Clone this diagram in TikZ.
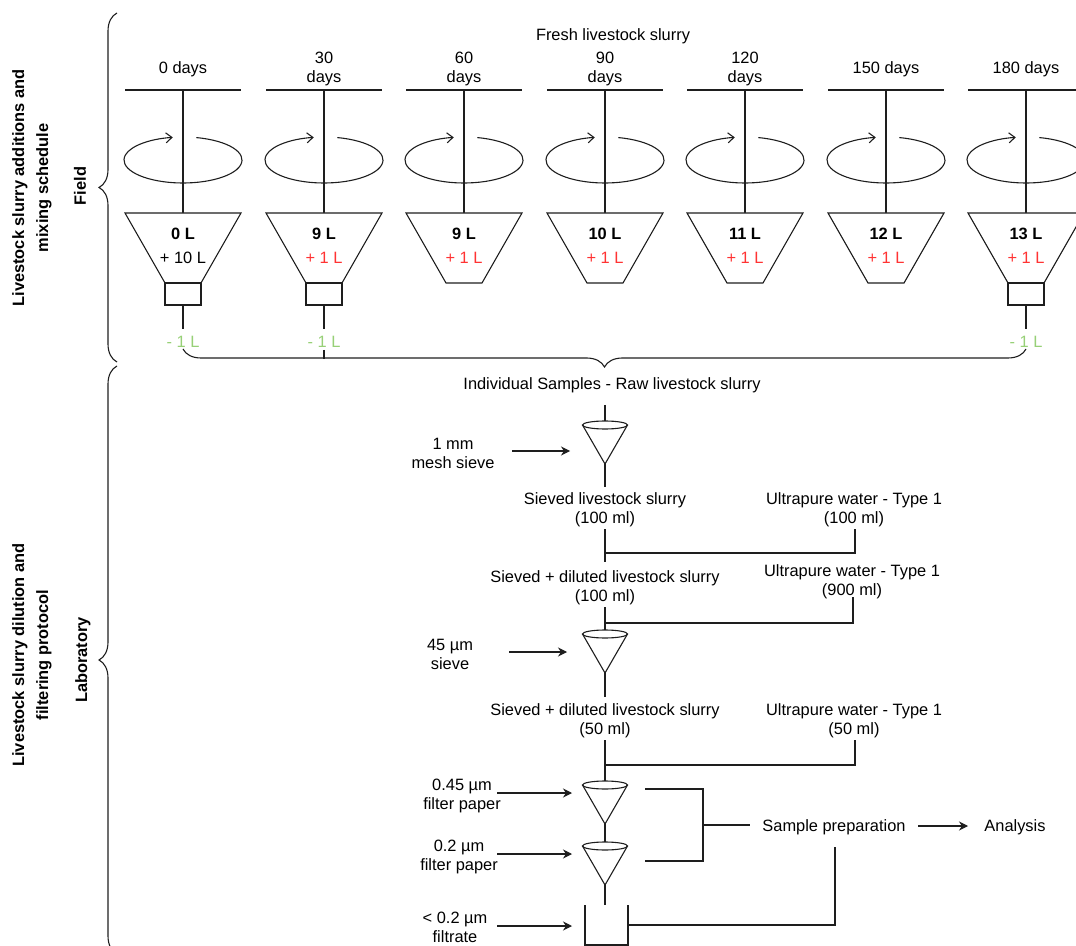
\documentclass[tikz,border=0pt]{standalone}
\usepackage{fontspec}
\setmainfont{Liberation Sans}
\usetikzlibrary{arrows.meta,decorations.pathreplacing}
\definecolor{minusgreen}{RGB}{151,208,119}
\definecolor{plusred}{RGB}{255,51,51}
\definecolor{ink}{RGB}{30,30,30}
\begin{document}
\begin{tikzpicture}[x=0.5pt,y=0.5pt,
  font=\fontsize{8.2}{9.5}\selectfont,
  line width=0.55pt, draw=ink,
  lbl/.style={align=center,inner sep=0pt,yshift=-0.8pt},
  side/.style={align=center,inner sep=0pt,rotate=90,font=\fontsize{8.2}{12}\selectfont\bfseries},
  bracegrp/.style={decorate,decoration={brace,amplitude=9pt}},
  feed/.style={-{Stealth[length=4.5pt,width=4.5pt]}},
  spin/.style={-{Straight Barb[length=3pt,width=5pt]}},
  funnel/.pic={\draw (-22.5,0) -- (0,-39) -- (22.5,0); \draw (0,0) ellipse[x radius=22.5,y radius=4];}
]
\useasboundingbox (0,0) rectangle (1076,-946);
\clip (0,0) rectangle (1076,-946);

% ---------------- Field ----------------
\node[lbl] (fresh) at (613,-35) {Fresh livestock slurry};
\foreach \cx/\day/\vol/\add/\acol/\hasbox [count=\i] in
 {183/{0 days}/0 L/+ 10 L/black/1,
  324/{30\\days}/9 L/+ 1 L/plusred/1,
  464/{60\\days}/9 L/+ 1 L/plusred/0,
  605/{90\\days}/10 L/+ 1 L/plusred/0,
  745/{120\\days}/11 L/+ 1 L/plusred/0,
  886/{150 days}/12 L/+ 1 L/plusred/0,
  1026/{180 days}/13 L/+ 1 L/plusred/1}
{
  \node[lbl] (day\i) at (\cx,-67.5) {\day};
  \coordinate (top\i) at (\cx,-90);
  \coordinate (tl\i) at (\cx-58,-90);
  \coordinate (tr\i) at (\cx+58,-90);
  \draw (tl\i) -- (tr\i);
  \coordinate (tank\i) at (\cx,-213);
  \draw (top\i) -- (tank\i);
  \draw[spin] ([shift={(77:59 and 23)}]\cx,-160) arc[start angle=77,end angle=-260,x radius=59,y radius=23];
  \draw[fill=white] (\cx-58,-213) -- (\cx+58,-213) -- (\cx+18,-283) -- (\cx-18,-283) -- cycle;
  \node[lbl,font=\fontsize{8.2}{9.5}\selectfont\bfseries] (vol\i) at (\cx,-232) {\vol};
  \node[lbl,text=\acol] (add\i) at (\cx,-256) {\add};
  \ifnum\hasbox=1
    \draw (\cx-18,-283) rectangle (\cx+18,-305);
    \coordinate (out\i) at (\cx,-305);
    \node[lbl,text=minusgreen] (minus\i) at (\cx,-340) {- 1 L};
    \draw (out\i) -- ([yshift=3pt]minus\i.north);
  \fi
}
\draw[bracegrp] (1026,-349) -- (183,-349);
\draw ([yshift=-1pt]minus2.south) -- (324,-359.5);

% side braces and labels
\draw[bracegrp] (117,-362) -- (117,-13);
\draw[bracegrp] (117,-954) -- (117,-366);
\node[side] (fieldtitle) at (32,-188) {Livestock slurry additions and\\mixing schedule};
\node[side] (field) at (80,-186) {Field};
\node[side] (labtitle) at (32,-655) {Livestock slurry dilution and\\filtering protocol};
\node[side] (lab) at (83,-660) {Laboratory};

% ---------------- Laboratory ----------------
\node[lbl] (raw) at (612,-384) {Individual Samples - Raw livestock slurry};
\coordinate (f1) at (605,-425);
\pic at (f1) {funnel};
\draw (605,-405) -- (605,-421);
\draw (605,-464) -- (605,-487);
\node[lbl] (mesh) at (453,-451.5) {1 mm\\mesh sieve};
\draw[feed] (512,-451) -- (570,-451);

\node[lbl] (sieved) at (605,-508.5) {Sieved livestock slurry\\(100 ml)};
\node[lbl] (water1) at (854,-508.5) {Ultrapure water - Type 1\\(100 ml)};
\draw (605,-529) -- (605,-562);
\draw (855,-529) |- (605,-553);

\node[lbl] (dil1) at (605,-586.5) {Sieved + diluted livestock slurry\\(100 ml)};
\node[lbl] (water2) at (852,-580.5) {Ultrapure water - Type 1\\(900 ml)};
\draw (605,-607) -- (605,-630);
\draw (853,-597) |- (605,-623);

\coordinate (f2) at (605,-634);
\pic at (f2) {funnel};
\draw (605,-673) -- (605,-697);
\node[lbl] (sieve45) at (450,-653) {45 µm\\sieve};
\draw[feed] (509,-652) -- (567,-652);

\node[lbl] (dil2) at (605,-719.5) {Sieved + diluted livestock slurry\\(50 ml)};
\node[lbl] (water3) at (854,-719.5) {Ultrapure water - Type 1\\(50 ml)};
\draw (605,-740) -- (605,-781);
\draw (855,-740) |- (605,-765);

\coordinate (f3) at (605,-785);
\pic at (f3) {funnel};
\draw (605,-824) -- (605,-842);
\coordinate (f4) at (605,-846);
\pic at (f4) {funnel};
\draw (605,-885) -- (605,-905);
\draw (585,-905) -- (585,-945) -- (628,-945) -- (628,-905);

\node[lbl] (fp45) at (462,-794.5) {0.45 µm\\filter paper};
\draw[feed] (497,-793) -- (572,-793);
\node[lbl] (fp2) at (459,-855) {0.2 µm\\filter paper};
\draw[feed] (497,-854) -- (572,-854);
\node[lbl] (filt) at (455,-925.5) {< 0.2 µm\\filtrate};
\draw[feed] (497,-926) -- (572,-926);

\node[lbl] (prep) at (834,-826) {Sample preparation};
\node[lbl] (analysis) at (1015,-826) {Analysis};
\draw (645,-789) -- (703,-789) -- (703,-861) -- (645,-861);
\draw (703,-825) -- (750,-825);
\draw[feed] (918,-826) -- (968,-826);
\draw (628,-925) -| (835,-847);
\end{tikzpicture}
\end{document}
